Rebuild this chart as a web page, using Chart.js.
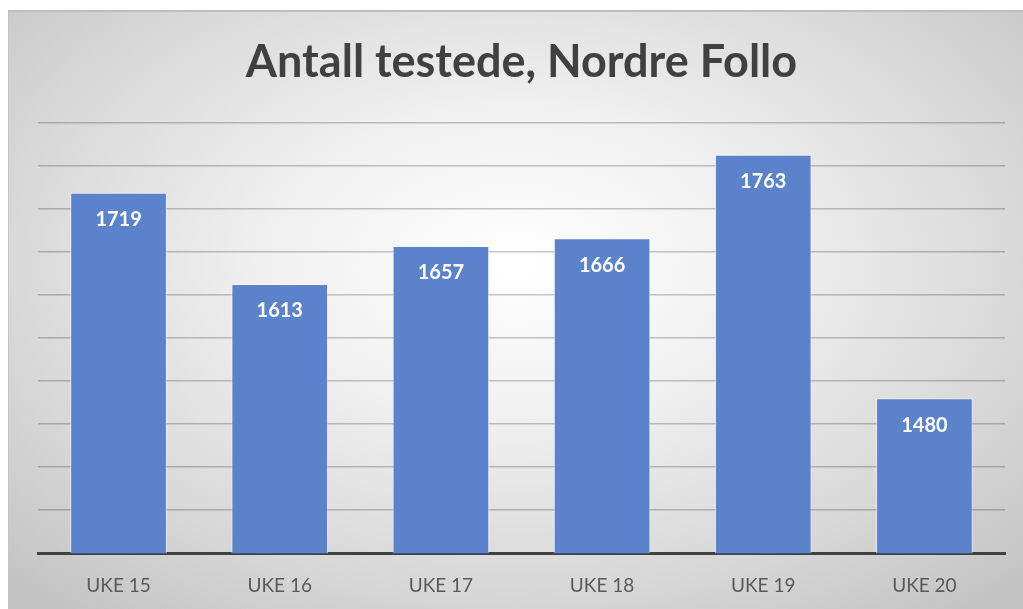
<!DOCTYPE html>
<html>
<head>
<meta charset="utf-8">
<script src="https://cdn.jsdelivr.net/npm/chart.js@4.4.0/dist/chart.umd.min.js"></script>
<style>
  html, body { margin: 0; padding: 0; background: #fff; }
  #ramme {
    position: absolute; left: 8px; top: 10px; width: 1015px; height: 599px;
    box-sizing: border-box;
    border-top: 2px solid #bdbdbd; border-left: 1px solid #c4c4c4;
    background: radial-gradient(ellipse 70% 75% at 50% 42%, #ffffff 0%, #f0f0f0 35%, #d6d6d6 75%, #c4c4c4 100%);
  }
  #boks { position: absolute; left: 0; top: 0; width: 1023px; height: 609px; }
</style>
</head>
<body>
<div id="ramme"></div>
<div id="boks"><canvas id="grafikk"></canvas></div>
<script>
var uker = ["UKE 15", "UKE 16", "UKE 17", "UKE 18", "UKE 19", "UKE 20"];
var antallTestede = [1719, 1613, 1657, 1666, 1763, 1480];
var yMin = 1300;
var yMax = 1800;
var ySteg = 50;

var fargeSoyle = "#5b83cb";
var fargeTekst = "#595959";
var fargeTittel = "#404040";

// skriver verdien inne i toppen av hver søyle
var verdiEtiketter = {
    id: 'verdiEtiketter',
    afterDatasetsDraw(chart) {
        var ctx = chart.ctx;
        var meta = chart.getDatasetMeta(0);
        ctx.save();
        ctx.fillStyle = "#ffffff";
        ctx.font = "bold 20px Lato, 'Open Sans', sans-serif";
        ctx.textAlign = "center";
        ctx.textBaseline = "middle";
        meta.data.forEach(function (bar, i) {
            ctx.fillText(String(antallTestede[i]), bar.x, bar.y + 27);
        });
        ctx.restore();
    }
};

var grafikk = new Chart(document.getElementById('grafikk'), {
    type: 'bar',
    data: {
        labels: uker,
        datasets: [{
            label: 'Antall testede',
            data: antallTestede,
            backgroundColor: fargeSoyle,
            borderColor: "rgba(255,255,255,0.55)",
            borderWidth: 1,
            categoryPercentage: 1,
            barPercentage: 0.6
        }]
    },
    options: {
        responsive: true,
        maintainAspectRatio: false,
        animation: false,
        layout: { padding: { left: 38, right: 18, top: 0, bottom: -9 } },
        plugins: {
            legend: { display: false },
            tooltip: { enabled: false },
            title: {
                display: true,
                text: 'Antall testede, Nordre Follo',
                color: fargeTittel,
                font: { family: "Lato, 'Open Sans', sans-serif", size: 45, weight: 'bold', lineHeight: 1.2 },
                padding: { top: 35, bottom: 34 }
            }
        },
        scales: {
            x: {
                grid: { display: false, drawTicks: false },
                border: { display: true, color: "#404040", width: 3 },
                ticks: { color: fargeTekst, font: { family: "Lato, 'Open Sans', sans-serif", size: 19 }, padding: 21 }
            },
            y: {
                min: yMin,
                max: yMax,
                ticks: { display: false, stepSize: ySteg },
                grid: { color: "rgba(0,0,0,0.22)", lineWidth: 1.5, drawTicks: false },
                border: { display: false }
            }
        }
    },
    plugins: [verdiEtiketter]
});
</script>
</body>
</html>
